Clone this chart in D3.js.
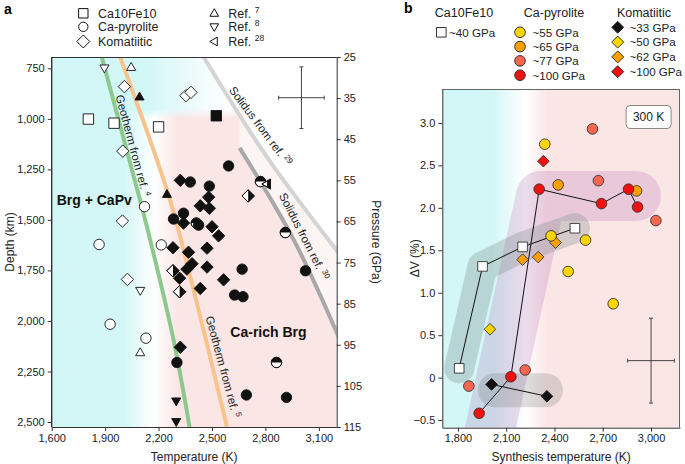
<!DOCTYPE html>
<html>
<head>
<meta charset="utf-8">
<script src="https://cdn.jsdelivr.net/npm/d3@7"></script>
<style>
body { margin: 0; background: #fff; }
svg { font-family: "Liberation Sans", Arial, sans-serif; }
</style>
</head>
<body>
<svg id="chart" width="685" height="464"></svg>
<script>
// ---- panel a: [temperature (K), pressure (GPa)] ----
var aFilledCircles = [[2378,55.4],[2485,56.4],[2593,51.5],[2340,63.0],[2284,64.4],[2425,65.9],[2669,76.6],[3025,77.0],[2627,82.9],[2674,83.3],[2303,99.3],[2693,107.2],[2918,107.8]];
var aHalfCircles = [[2772,55.3],[2412,65.4],[2912,67.7],[2862,99.3]];
var aOpenCircles = [[2121,61.4],[1866,70.6],[2215,70.7],[1928,90.0],[2129,93.4]];
var aFilledDiamonds = [[2322,55.0],[2434,61.2],[2481,59.1],[2485,61.8],[2340,65.4],[2500,66.3],[2537,68.5],[2281,71.4],[2368,72.5],[2472,71.5],[2388,75.3],[2359,76.6],[2472,76.1],[2565,79.2],[2318,78.8],[2434,81.3],[2322,95.6]];
var aHalfDiamonds = [[2281,77.0],[2318,82.1],[2703,58.8]];
var aOpenDiamonds = [[2008,32.2],[2354,34.4],[2382,33.6],[1999,47.9],[1997,64.9],[2025,79.1]];
var aOpenSquares = [[1806,40.1],[1950,41.1],[2200,42.0]];
var aFilledSquares = [[2524,39.3]];
var ref7Open = [[2046,27.5],[2097,96.9]];
var ref7Filled = [[2093,34.7],[2247,58.4]];
var ref8Open = [[1896,27.7],[2097,81.8]];
var ref8Filled = [[2299,108.7],[2299,113.7]];
var ref28Half = [[2809,55.9]];

var geotherm4 = [[1881,25],[2078,56.9],[2153,69.5],[2284,93.8],[2374,115]];
var geotherm5 = [[1984,25],[2256,58.6],[2378,78.4],[2584,115]];
var solidus29 = [[2453,25],[2800,48.8],[3210,72.6]];
var solidus30 = [[2655,47.1],[2959,69.5],[3210,93]];

var depthTicks = [750,1000,1250,1500,1750,2000,2250,2500];
var pressureTicks = [25,35,45,55,65,75,85,95,105,115];
var tempTicksA = [1600,1900,2200,2500,2800,3100];

// ---- panel b: [synthesis temperature (K), dV (%)] ----
var bSquares40 = [[1808,0.11],[1953,1.31],[2202,1.54],[2527,1.76]];
var pyro55 = [[2340,2.75],[2379,1.67],[2593,1.62],[2485,1.25],[2765,0.87]];
var pyro65 = [[2423,2.27],[2910,2.20]];
var pyro77 = [[2636,2.93],[2673,2.32],[3030,1.85],[2218,0.09],[1868,-0.10]];
var pyro100 = [[1932,-0.42],[2129,0.01],[2305,2.22],[2692,2.05],[2860,2.22],[2916,2.01]];
var koma33 = [[2009,-0.08],[2353,-0.22]];
var koma50 = [[1999,0.57]];
var koma62 = [[2202,1.39],[2299,1.42],[2407,1.59]];
var koma100 = [[2331,2.55]];
var pyroBand = [[1999,-0.62],[2316,2.14],[2906,2.14]];
var komaBand = [[2030,-0.15],[2347,-0.15]];

var tempTicksB = [1800,2100,2400,2700,3000];
var dvTicks = [-0.5,0,0.5,1.0,1.5,2.0,2.5,3.0];

var cyan = "#d3f6f6", pink = "#fbe6e6";
var c55 = "#ffd500", c65 = "#ffa000", c77 = "#fa6650", c100 = "#f01010";

var svg = d3.select("#chart");
var defs = svg.append("defs");

// layout
var aL = 51.7, aR = 336.7, aT = 57, aB = 427;
var bL = 442.3, bR = 680, bT = 89, bB = 427.7;

var xA = d3.scaleLinear().domain([1600,3200]).range([aL,aR]);
var pA = d3.scaleLinear().domain([25,115]).range([aT,aB]);
var dA = d3.scaleLinear().domain([750,2500]).range([68.3,422]);
var xB = d3.scaleLinear().domain([1703,3180]).range([bL,bR]);
var yB = d3.scaleLinear().domain([-0.59,3.40]).range([bB,bT]);

function shapePath(kind, s) {
    if (kind === "circle") return "M" + (-s) + ",0A" + s + "," + s + " 0 1,1 " + s + ",0A" + s + "," + s + " 0 1,1 " + (-s) + ",0Z";
    if (kind === "square") return "M" + (-s) + "," + (-s) + "H" + s + "V" + s + "H" + (-s) + "Z";
    if (kind === "diamond") return "M0," + (-s) + "L" + s + ",0L0," + s + "L" + (-s) + ",0Z";
    if (kind === "up") return "M0," + (-s) + "L" + (s*0.95) + "," + (s*0.65) + "L" + (-s*0.95) + "," + (s*0.65) + "Z";
    if (kind === "down") return "M0," + s + "L" + (s*0.95) + "," + (-s*0.65) + "L" + (-s*0.95) + "," + (-s*0.65) + "Z";
    if (kind === "left") return "M" + (-s) + ",0L" + (s*0.65) + "," + (-s*0.95) + "L" + (s*0.65) + "," + (s*0.95) + "Z";
}
function halfPath(kind, s) {
    if (kind === "circle") return "M" + (-s) + ",0A" + s + "," + s + " 0 0,1 " + s + ",0Z";
    if (kind === "diamond") return "M0," + (-s) + "L" + s + ",0L0," + s + "Z";
    if (kind === "left") return "M0," + (-s*0.58) + "L" + (s*0.65) + "," + (-s*0.95) + "L" + (s*0.65) + "," + (s*0.95) + "L0," + (s*0.58) + "Z";
}
function drawMarks(g, data, x, y, kind, size, fill, stroke, half) {
    var m = g.append("g").selectAll("g").data(data).join("g")
        .attr("transform", function(d) { return "translate(" + x(d[0]) + "," + y(d[1]) + ")"; });
    m.append("path").attr("d", shapePath(kind, size))
        .attr("fill", half ? "#fff" : fill).attr("stroke", stroke).attr("stroke-width", 0.9);
    if (half) {
        m.append("path").attr("d", halfPath(kind, size)).attr("fill", "#111");
        m.append("path").attr("d", shapePath(kind, size)).attr("fill", "none")
            .attr("stroke", stroke).attr("stroke-width", 0.9);
    }
}
function gradient(id, x1, x2, stops) {
    var gr = defs.append("linearGradient").attr("id", id)
        .attr("gradientUnits", "userSpaceOnUse")
        .attr("x1", x1).attr("x2", x2).attr("y1", 0).attr("y2", 0);
    stops.forEach(function(s) {
        gr.append("stop").attr("offset", s[0]).attr("stop-color", s[1]);
    });
}
function styleAxis(g) {
    g.selectAll(".domain").attr("stroke", "#333");
    g.selectAll(".tick line").attr("stroke", "#333");
    g.selectAll(".tick text").attr("font-size", 11).attr("fill", "#222")
        .attr("font-family", "Liberation Sans, Arial, sans-serif");
}
function refLabel(g, x, y, angle, main, sup) {
    var t = g.append("text")
        .attr("transform", "translate(" + x + "," + y + ") rotate(" + angle + ")")
        .attr("font-size", 11.5).attr("fill", "#222");
    t.append("tspan").text(main);
    t.append("tspan").attr("dy", -4).attr("font-size", 8).text(sup);
}

// ================= panel a =================
defs.append("clipPath").attr("id", "clipA").append("rect")
    .attr("x", aL).attr("y", aT).attr("width", aR - aL).attr("height", aB - aT);
gradient("bgA", aL, aR, [[0, cyan], [0.25, cyan], [0.36, "#ffffff"], [0.44, pink], [1, pink]]);
gradient("topA", aL, aR, [[0, cyan], [0.33, cyan], [0.5, "#eefbfb"], [0.62, "#ffffff"], [1, "#ffffff"]]);
var topMask = defs.append("linearGradient").attr("id", "topFade")
    .attr("x1", 0).attr("x2", 0).attr("y1", 0).attr("y2", 1);
topMask.append("stop").attr("offset", 0).attr("stop-color", "#fff");
topMask.append("stop").attr("offset", 0.85).attr("stop-color", "#fff");
topMask.append("stop").attr("offset", 1).attr("stop-color", "#000");
defs.append("mask").attr("id", "maskTop").append("rect")
    .attr("x", aL).attr("y", aT).attr("width", aR - aL).attr("height", pA(40) - aT)
    .attr("fill", "url(#topFade)");

var gA = svg.append("g");
var plotA = gA.append("g").attr("clip-path", "url(#clipA)");
plotA.append("rect").attr("x", aL).attr("y", aT).attr("width", aR - aL).attr("height", aB - aT)
    .attr("fill", "url(#bgA)");
plotA.append("rect").attr("x", aL).attr("y", aT).attr("width", aR - aL).attr("height", pA(40) - aT)
    .attr("fill", "url(#topA)").attr("mask", "url(#maskTop)");

var lineA = d3.line().x(function(d) { return xA(d[0]); }).y(function(d) { return pA(d[1]); })
    .curve(d3.curveCatmullRom);
var polyA = d3.line().x(function(d) { return xA(d[0]); }).y(function(d) { return pA(d[1]); });

// white field beyond the solidus curves
plotA.append("path").datum(solidus30.concat([[3210,115],[3210,25],[2655,25]])).attr("d", polyA)
    .attr("fill", "#fff").attr("opacity", 0.55);
plotA.append("path").datum(solidus29.concat([[3210,25]])).attr("d", polyA)
    .attr("fill", "#fff");

plotA.append("path").datum(solidus29).attr("d", lineA).attr("fill", "none")
    .attr("stroke", "#d4d4d4").attr("stroke-width", 4);
plotA.append("path").datum(solidus30).attr("d", lineA).attr("fill", "none")
    .attr("stroke", "#a8a8a8").attr("stroke-width", 4);
plotA.append("path").datum(geotherm4).attr("d", lineA).attr("fill", "none")
    .attr("stroke", "#8dc98d").attr("stroke-width", 4);
plotA.append("path").datum(geotherm5).attr("d", lineA).attr("fill", "none")
    .attr("stroke", "#f9c48c").attr("stroke-width", 4);

refLabel(plotA, xA(1958), pA(34.5), 75, "Geotherm from ref. ", "4");
refLabel(plotA, xA(2464), pA(88.3), 75, "Geotherm from ref. ", "5");
refLabel(plotA, xA(2592), pA(33.1), 53, "Solidus from ref. ", "29");
refLabel(plotA, xA(2875), pA(58.7), 63, "Solidus from ref. ", "30");

plotA.append("text").attr("x", xA(1628)).attr("y", pA(61)).attr("font-size", 14)
    .attr("font-weight", "bold").attr("fill", "#111").text("Brg + CaPv");
plotA.append("text").attr("x", xA(2603)).attr("y", pA(93)).attr("font-size", 14)
    .attr("font-weight", "bold").attr("fill", "#111").text("Ca-rich Brg");

// error cross
var errA = plotA.append("g").attr("stroke", "#444").attr("stroke-width", 1);
errA.append("line").attr("x1", xA(2874)).attr("x2", xA(3130)).attr("y1", pA(34.9)).attr("y2", pA(34.9));
errA.append("line").attr("x1", xA(3002)).attr("x2", xA(3002)).attr("y1", pA(27.4)).attr("y2", pA(42.4));
[[2874,34.9,"v"],[3130,34.9,"v"],[3002,27.4,"h"],[3002,42.4,"h"]].forEach(function(c) {
    if (c[2] === "v") errA.append("line").attr("x1", xA(c[0])).attr("x2", xA(c[0])).attr("y1", pA(c[1]) - 2).attr("y2", pA(c[1]) + 2);
    else errA.append("line").attr("x1", xA(c[0]) - 2).attr("x2", xA(c[0]) + 2).attr("y1", pA(c[1])).attr("y2", pA(c[1]));
});

drawMarks(plotA, aOpenSquares, xA, pA, "square", 5.2, "#fff", "#111");
drawMarks(plotA, aFilledSquares, xA, pA, "square", 5.2, "#111", "#111");
drawMarks(plotA, aOpenDiamonds, xA, pA, "diamond", 6.2, "#fff", "#111");
drawMarks(plotA, aOpenCircles, xA, pA, "circle", 5.2, "#fff", "#111");
drawMarks(plotA, ref7Open, xA, pA, "up", 4.8, "#fff", "#111");
drawMarks(plotA, ref7Filled, xA, pA, "up", 4.8, "#111", "#111");
drawMarks(plotA, ref8Open, xA, pA, "down", 4.8, "#fff", "#111");
drawMarks(plotA, ref8Filled, xA, pA, "down", 4.8, "#111", "#111");
drawMarks(plotA, aHalfCircles, xA, pA, "circle", 5.2, "#111", "#111", true);
drawMarks(plotA, aHalfDiamonds, xA, pA, "diamond", 6.2, "#111", "#111", true);
drawMarks(plotA, aFilledDiamonds, xA, pA, "diamond", 6.2, "#111", "#111");
drawMarks(plotA, aFilledCircles, xA, pA, "circle", 5.2, "#111", "#111");
drawMarks(plotA, ref28Half, xA, pA, "left", 5.2, "#111", "#111", true);

gA.append("line").attr("x1", aL).attr("x2", aR).attr("y1", aT + 0.5).attr("y2", aT + 0.5)
    .attr("stroke", "#333");
gA.append("g").attr("transform", "translate(" + aL + ",0)")
    .call(d3.axisLeft(dA).tickValues(depthTicks).tickFormat(d3.format(",")).tickSize(4).tickSizeOuter(0))
    .call(styleAxis)
    .select(".domain").attr("d", "M0," + aT + "V" + aB).attr("stroke-width", 1.4);
gA.append("g").attr("transform", "translate(" + aR + ",0)")
    .call(d3.axisRight(pA).tickValues(pressureTicks).tickSize(4).tickSizeOuter(0))
    .call(styleAxis);
gA.append("g").attr("transform", "translate(0," + aB + ")")
    .call(d3.axisBottom(xA).tickValues(tempTicksA).tickFormat(d3.format(",")).tickSize(4).tickSizeOuter(0))
    .call(styleAxis);

gA.append("text").attr("transform", "translate(14," + ((aT + aB) / 2) + ") rotate(-90)")
    .attr("text-anchor", "middle").attr("font-size", 12).attr("fill", "#222").text("Depth (km)");
gA.append("text").attr("transform", "translate(372," + ((aT + aB) / 2) + ") rotate(90)")
    .attr("text-anchor", "middle").attr("font-size", 12).attr("fill", "#222").text("Pressure (GPa)");
gA.append("text").attr("x", (aL + aR) / 2).attr("y", 461)
    .attr("text-anchor", "middle").attr("font-size", 12).attr("fill", "#222").text("Temperature (K)");

// legend a
svg.append("text").attr("x", 4).attr("y", 14).attr("font-size", 14).attr("font-weight", "bold").text("a");
var legA = svg.append("g");
var legARows = [13.3, 26.8, 41.5];
[["square", 4.7, "Ca10Fe10"], ["circle", 4.7, "Ca-pyrolite"], ["diamond", 6.5, "Komatiitic"]].forEach(function(r, i) {
    legA.append("path").attr("transform", "translate(83.3," + legARows[i] + ")")
        .attr("d", shapePath(r[0], r[1])).attr("fill", "#fff").attr("stroke", "#111").attr("stroke-width", 1);
    legA.append("text").attr("x", 98).attr("y", legARows[i] + 4.5).attr("font-size", 12.5).attr("fill", "#222").text(r[2]);
});
[["up", "7"], ["down", "8"], ["left", "28"]].forEach(function(r, i) {
    legA.append("path").attr("transform", "translate(214.3," + legARows[i] + ")")
        .attr("d", shapePath(r[0], 4.6)).attr("fill", "#fff").attr("stroke", "#111").attr("stroke-width", 1);
    var t = legA.append("text").attr("x", 228.3).attr("y", legARows[i] + 4.5).attr("font-size", 12.5).attr("fill", "#222");
    t.append("tspan").text("Ref. ");
    t.append("tspan").attr("dy", -5).attr("font-size", 8.5).text(r[1]);
});

// ================= panel b =================
defs.append("clipPath").attr("id", "clipB").append("rect")
    .attr("x", bL).attr("y", bT).attr("width", bR - bL).attr("height", bB - bT);
gradient("bgB", bL, bR, [[0, cyan], [0.21, cyan], [0.35, "#ffffff"], [0.44, pink], [1, pink]]);

var gB = svg.append("g");
var plotB = gB.append("g").attr("clip-path", "url(#clipB)");
plotB.append("rect").attr("x", bL).attr("y", bT).attr("width", bR - bL).attr("height", bB - bT)
    .attr("fill", "url(#bgB)");

var lineB = d3.line().x(function(d) { return xB(d[0]); }).y(function(d) { return yB(d[1]); });
plotB.append("path").datum(pyroBand).attr("d", lineB).attr("fill", "none")
    .attr("stroke", "rgb(175,110,175)").attr("stroke-opacity", 0.24).attr("stroke-width", 50)
    .attr("stroke-linecap", "round").attr("stroke-linejoin", "round");
plotB.append("path").datum(bSquares40).attr("d", lineB).attr("fill", "none")
    .attr("stroke", "rgb(110,130,125)").attr("stroke-opacity", 0.28).attr("stroke-width", 30)
    .attr("stroke-linecap", "round").attr("stroke-linejoin", "round");
plotB.append("path").datum(komaBand).attr("d", lineB).attr("fill", "none")
    .attr("stroke", "rgb(90,90,90)").attr("stroke-opacity", 0.2).attr("stroke-width", 34)
    .attr("stroke-linecap", "round").attr("stroke-linejoin", "round");

[bSquares40, pyro100, koma33].forEach(function(s) {
    plotB.append("path").datum(s).attr("d", lineB).attr("fill", "none")
        .attr("stroke", "#111").attr("stroke-width", 1);
});

// error cross b
var errB = plotB.append("g").attr("stroke", "#444").attr("stroke-width", 1);
errB.append("line").attr("x1", xB(2855)).attr("x2", xB(3145)).attr("y1", yB(0.2)).attr("y2", yB(0.2));
errB.append("line").attr("x1", xB(3000)).attr("x2", xB(3000)).attr("y1", yB(0.7)).attr("y2", yB(-0.3));
[[2855,0.2,"v"],[3145,0.2,"v"],[3000,0.7,"h"],[3000,-0.3,"h"]].forEach(function(c) {
    if (c[2] === "v") errB.append("line").attr("x1", xB(c[0])).attr("x2", xB(c[0])).attr("y1", yB(c[1]) - 2).attr("y2", yB(c[1]) + 2);
    else errB.append("line").attr("x1", xB(c[0]) - 2).attr("x2", xB(c[0]) + 2).attr("y1", yB(c[1])).attr("y2", yB(c[1]));
});

drawMarks(plotB, koma33, xB, yB, "diamond", 5.8, "#111", "#111");
drawMarks(plotB, koma50, xB, yB, "diamond", 5.8, c55, "#333");
drawMarks(plotB, koma62, xB, yB, "diamond", 5.8, c65, "#333");
drawMarks(plotB, koma100, xB, yB, "diamond", 5.8, c100, "#333");
drawMarks(plotB, bSquares40, xB, yB, "square", 4.8, "#fff", "#333");
drawMarks(plotB, pyro55, xB, yB, "circle", 5.3, c55, "#333");
drawMarks(plotB, pyro65, xB, yB, "circle", 5.3, c65, "#333");
drawMarks(plotB, pyro77, xB, yB, "circle", 5.3, c77, "#333");
drawMarks(plotB, pyro100, xB, yB, "circle", 5.3, c100, "#333");

// 300 K tag
var tag = plotB.append("g").attr("transform", "translate(" + xB(2985) + "," + yB(3.07) + ")");
tag.append("rect").attr("x", -22.5).attr("y", -11.5).attr("width", 45).attr("height", 23)
    .attr("rx", 4).attr("fill", "#fff").attr("stroke", "#888");
tag.append("text").attr("y", 4.3).attr("text-anchor", "middle").attr("font-size", 12)
    .attr("fill", "#222").text("300 K");

var frameB = gB.append("g").attr("stroke", "#666").attr("fill", "none");
frameB.append("line").attr("x1", bL).attr("x2", bR).attr("y1", bT + 0.5).attr("y2", bT + 0.5);
frameB.append("line").attr("x1", bR - 0.5).attr("x2", bR - 0.5).attr("y1", bT).attr("y2", bB);

gB.append("g").attr("transform", "translate(" + bL + ",0)")
    .call(d3.axisLeft(yB).tickValues(dvTicks).tickSize(4).tickSizeOuter(0)
        .tickFormat(function(d) { return d === 0 ? "0" : d3.format(".1f")(d).replace("-", "\u2212"); }))
    .call(styleAxis);
gB.append("g").attr("transform", "translate(0," + bB + ")")
    .call(d3.axisBottom(xB).tickValues(tempTicksB).tickFormat(d3.format(",")).tickSize(4).tickSizeOuter(0))
    .call(styleAxis);

gB.append("text").attr("transform", "translate(419," + ((bT + bB) / 2) + ") rotate(-90)")
    .attr("text-anchor", "middle").attr("font-size", 12).attr("fill", "#222").text("\u0394V (%)");
gB.append("text").attr("x", (bL + bR) / 2).attr("y", 461)
    .attr("text-anchor", "middle").attr("font-size", 12).attr("fill", "#222").text("Synthesis temperature (K)");

// legend b
svg.append("text").attr("x", 404).attr("y", 13).attr("font-size", 14).attr("font-weight", "bold").text("b");
var legB = svg.append("g").attr("font-size", 11.6).attr("fill", "#222");
legB.append("text").attr("x", 464).attr("y", 16.5).attr("text-anchor", "middle").attr("font-size", 12.5).text("Ca10Fe10");
legB.append("text").attr("x", 554).attr("y", 16.5).attr("text-anchor", "middle").attr("font-size", 12.5).text("Ca-pyrolite");
legB.append("text").attr("x", 644).attr("y", 16.5).attr("text-anchor", "middle").attr("font-size", 12.5).text("Komatiitic");
legB.append("path").attr("transform", "translate(441.3,32.3)").attr("d", shapePath("square", 4.8))
    .attr("fill", "#fff").attr("stroke", "#333");
legB.append("text").attr("x", 449).attr("y", 36.6).text("~40 GPa");
[[c55, "~55 GPa"], [c65, "~65 GPa"], [c77, "~77 GPa"], [c100, "~100 GPa"]].forEach(function(r, i) {
    var y = 32.3 + i * 14.3;
    legB.append("path").attr("transform", "translate(520," + y + ")").attr("d", shapePath("circle", 5.3))
        .attr("fill", r[0]).attr("stroke", "#333");
    legB.append("text").attr("x", 532.5).attr("y", y + 4.3).text(r[1]);
});
[["#111", "~33 GPa"], [c55, "~50 GPa"], [c65, "~62 GPa"], [c100, "~100 GPa"]].forEach(function(r, i) {
    var y = 27.3 + i * 14.8;
    legB.append("path").attr("transform", "translate(617.7," + y + ")").attr("d", shapePath("diamond", 6))
        .attr("fill", r[0]).attr("stroke", "#333");
    legB.append("text").attr("x", 629.5).attr("y", y + 4.3).text(r[1]);
});
</script>
</body>
</html>
